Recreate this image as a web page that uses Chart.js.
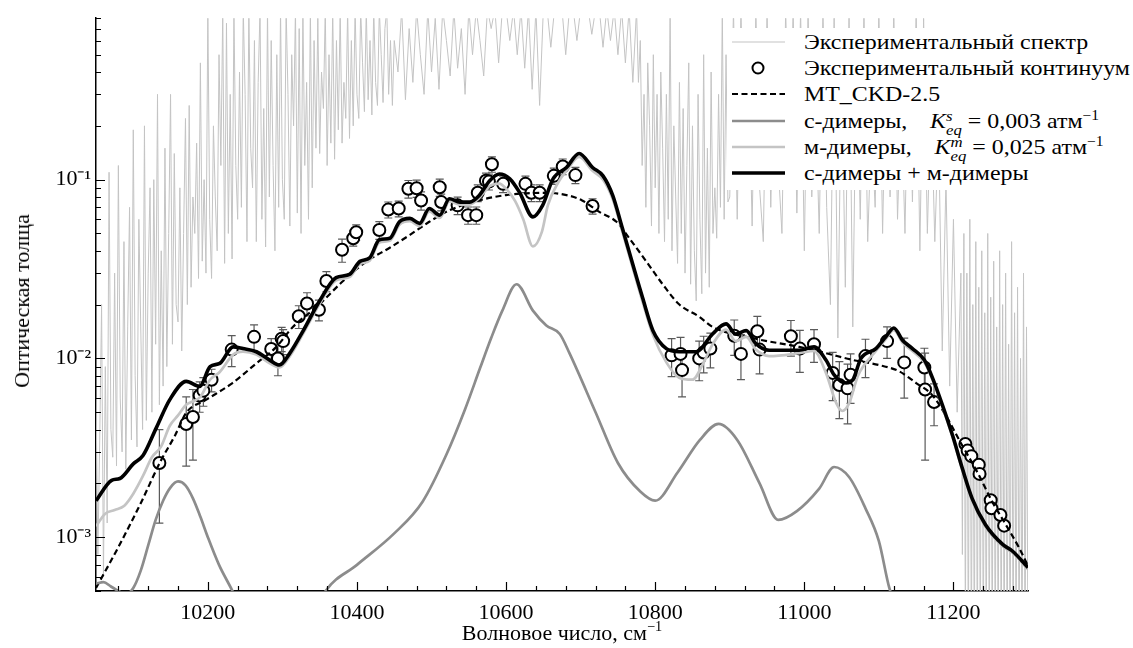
<!DOCTYPE html>
<html>
<head>
<meta charset="utf-8">
<script src="https://cdn.jsdelivr.net/npm/chart.js@4.4.1/dist/chart.umd.min.js"></script>
<style>
  html, body { margin: 0; padding: 0; background: #fff; }
  #wrap { position: relative; width: 1133px; height: 648px; overflow: hidden; }
  #chart { position: absolute; left: 0; top: 0; }
  .legend { position: absolute; left: 727px; top: 28px; width: 406px; height: 162px; background: #fff;
            font-family: 'Liberation Serif', serif; font-size: 21px; color: #000; }
  .row { position: absolute; left: 0; width: 406px; height: 26px; }
  .row svg { position: absolute; left: 0; top: 0; }
  .row .txt { position: absolute; left: 77px; top: 0; line-height: 26px; white-space: nowrap; transform-origin: 0 50%; }
  .k { font-style: italic; }
  .ss { display: inline-block; font-size: 0.7em; line-height: 0.95em; vertical-align: -0.5em; font-style: italic; }
  .ss span { display: block; }
  .gap { display: inline-block; width: 20px; }
  sup.u { font-size: 0.65em; vertical-align: 0.6em; line-height: 0; }
  .xtitle { position: absolute; left: 96px; width: 932px; top: 620px; text-align: center;
            font-family: 'Liberation Serif', serif; font-size: 22px; }
  .ytitle { position: absolute; left: 22px; top: 301px; transform: translate(-50%, -50%) rotate(-90deg);
            font-family: 'Liberation Serif', serif; font-size: 22px; white-space: nowrap; }
</style>
</head>
<body>
<div id="wrap">
  <canvas id="chart" width="1133" height="648"></canvas>
  <div class="ytitle">Оптическая толща</div>
  <div class="xtitle">Волновое число, см<sup class="u">−1</sup></div>
  <div class="legend">
    <div class="row" style="top:1px"><svg width="60" height="26"><line x1="5" y1="13" x2="58" y2="13" stroke="#c4c4c4" stroke-width="1.2"/></svg><div class="txt">Экспериментальный спектр</div></div>
    <div class="row" style="top:27px"><svg width="60" height="26"><circle cx="31" cy="13" r="5.5" fill="#fff" stroke="#000" stroke-width="2"/></svg><div class="txt">Экспериментальный континуум</div></div>
    <div class="row" style="top:53px"><svg width="60" height="26"><line x1="5" y1="13" x2="58" y2="13" stroke="#000" stroke-width="2.2" stroke-dasharray="6 3.5"/></svg><div class="txt">MT_CKD-2.5</div></div>
    <div class="row" style="top:80px"><svg width="60" height="26"><line x1="5" y1="13" x2="58" y2="13" stroke="#8c8c8c" stroke-width="2.7"/></svg><div class="txt">с-димеры,<span class="gap"></span><span class="k">K</span><span class="ss"><span>s</span><span>eq</span></span> = 0,003 атм<sup class="u">−1</sup></div></div>
    <div class="row" style="top:106px"><svg width="60" height="26"><line x1="5" y1="13" x2="58" y2="13" stroke="#c4c4c4" stroke-width="2.7"/></svg><div class="txt">м-димеры,<span class="gap"></span><span class="k">K</span><span class="ss"><span>m</span><span>eq</span></span> = 0,025 атм<sup class="u">−1</sup></div></div>
    <div class="row" style="top:132px"><svg width="60" height="26"><line x1="5" y1="13" x2="58" y2="13" stroke="#000" stroke-width="3.6"/></svg><div class="txt">с-димеры + м-димеры</div></div>
  </div>
</div>
<script>
// axis setup
const xMin = 10050, xMax = 11300;
const yMin = 5e-4, yMax = 0.8;
const xMajorTicks = [10200, 10400, 10600, 10800, 11000, 11200];
const xMinorStep = 40;
const yMajorTicks = [1e-3, 1e-2, 1e-1];
const yTickLabels = ['10⁻³', '10⁻²', '10⁻¹'];

// experimental spectrum, read in pieces with different sampling
// A: every 2.5 cm-1 from 10050
const specAStart = 10050, specAStep = 2.5;
const specAValues = [
  0.006, 0.0008, 0.0035, 0.02, 0.0006, 0.009, 0.0012, 0.11, 0.004, 0.0028,
  0.03, 0.0025, 0.12, 0.006, 0.003, 0.045, 0.0024, 0.015, 0.07, 0.0035,
  0.19, 0.008, 0.0032, 0.06, 0.015, 0.004, 0.2, 0.0045, 0.03, 0.09,
  0.005, 0.1, 0.012, 0.3, 0.0055, 0.04, 0.007, 0.15, 0.009, 0.05,
  0.3, 0.012, 0.14, 0.02, 0.016, 0.09, 0.011, 0.05, 0.22, 0.02,
  0.26, 0.025, 0.08, 0.05, 0.16, 0.028, 0.45, 0.035, 0.1, 0.03,
  0.9, 0.06, 0.028, 0.2, 0.08, 0.04, 0.5, 0.12, 0.9, 0.034,
  0.75, 0.05, 0.3, 0.036, 0.9, 0.12, 0.06, 0.4, 0.07, 0.9,
  0.3, 0.045, 0.9, 0.15, 0.09, 0.6, 0.045, 0.35, 0.9, 0.06,
  0.25, 0.042, 0.9, 0.08, 0.6, 0.12, 0.04, 0.5, 0.07, 0.9,
  0.1, 0.06, 0.9, 0.3, 0.055, 0.5, 0.2, 0.9, 0.065, 0.7,
  0.05, 0.9, 0.12, 0.35, 0.06, 0.9, 0.09, 0.6, 0.15, 0.8,
  0.14, 0.4, 0.25, 0.9, 0.12, 0.5, 0.16, 0.9, 0.13, 0.6,
  0.19, 0.9, 0.16, 0.35, 0.22, 0.9, 0.17, 0.6, 0.2, 0.9,
  0.3, 0.22, 0.9, 0.45, 0.24, 0.9, 0.28, 0.6, 0.23, 0.9,
  0.35, 0.26, 0.9, 0.5, 0.27, 0.7, 0.9, 0.3, 0.6, 0.26
];
// B: every 5 cm-1 from 10450
const specBStart = 10450, specBStep = 5;
const specBValues = [
  0.6, 0.4, 0.9, 0.28, 0.7, 0.35, 0.9, 0.5, 0.3, 0.9,
  0.4, 0.8, 0.32, 0.9, 0.6, 0.38, 0.9, 0.42, 0.7, 0.3,
  0.9, 0.5, 0.9, 0.6, 0.38, 0.9, 0.7, 0.9, 0.45, 0.9,
  0.9, 0.6, 0.9, 0.5, 0.9, 0.42, 0.9, 0.32, 0.9, 0.26,
  0.9, 0.9, 0.55, 0.9, 0.9, 0.9, 0.5, 0.9, 0.9, 0.6,
  0.9, 0.9, 0.9, 0.65, 0.9, 0.9, 0.55, 0.9, 0.6, 0.9,
  0.5, 0.9, 0.45, 0.9, 0.35
];
// D: every 2.5 cm-1 from 10775 (deep band)
const specDStart = 10775, specDStep = 2.5;
const specDValues = [
  0.9, 0.35, 0.6, 0.12, 0.3, 0.07, 0.45, 0.2, 0.055, 0.5,
  0.09, 0.3, 0.05, 0.4, 0.15, 0.045, 0.3, 0.06, 0.9, 0.04,
  0.2, 0.08, 0.034, 0.35, 0.05, 0.25, 0.03, 0.12, 0.45, 0.026,
  0.2, 0.04, 0.021, 0.3, 0.06, 0.023, 0.5, 0.03, 0.15, 0.025,
  0.4, 0.05, 0.09, 0.047, 0.3, 0.07, 0.9, 0.06, 0.5, 0.075
];
// E: every 5 cm-1 from 10900
const specEStart = 10900, specEStep = 5;
const specEValues = [
  0.08, 0.9, 0.06, 0.9, 0.1, 0.5, 0.055, 0.9, 0.09, 0.045,
  0.9, 0.07, 0.6, 0.12, 0.05, 0.9, 0.1, 0.9, 0.065, 0.9,
  0.04, 0.9, 0.08, 0.3, 0.05, 0.9, 0.07, 0.02, 0.9, 0.013,
  0.5, 0.025, 0.9, 0.015, 0.6, 0.06, 0.9, 0.045, 0.2, 0.07,
  0.9, 0.05, 0.6, 0.08, 0.9, 0.06, 0.3, 0.05, 0.7, 0.075,
  0.9, 0.04, 0.8, 0.05, 0.3, 0.045, 0.2, 0.011, 0.1, 0.007,
  0.06, 0.005, 0.03
];
// C: dense tail, every 2 cm-1 from 11212
const specCStart = 11212, specCStep = 2;
const specCValues = [
  0.0008, 0.05, 0.0003, 0.03, 0.0002, 0.06, 0.0002, 0.02, 0.0002, 0.045,
  0.0002, 0.025, 0.0002, 0.04, 0.0002, 0.018, 0.0002, 0.05, 0.0002, 0.022,
  0.0002, 0.035, 0.0002, 0.015, 0.0002, 0.04, 0.0002, 0.02, 0.0002, 0.03,
  0.0002, 0.012, 0.0002, 0.045, 0.0002, 0.018, 0.0002, 0.025, 0.0002, 0.01,
  0.0002, 0.03, 0.0002, 0.015, 0.0002
];

// experimental continuum with error bars
const contX = [10135, 10171, 10180, 10189, 10194, 10205, 10232, 10262, 10285, 10294,
  10299, 10301, 10322, 10333, 10349, 10359, 10380, 10395, 10399, 10430,
  10442, 10456, 10469, 10480, 10486, 10511, 10513, 10535, 10549, 10560,
  10562, 10573, 10577, 10581, 10596, 10626, 10634, 10645, 10664, 10676,
  10693, 10716, 10822, 10834, 10836, 10859, 10865, 10874, 10906, 10915,
  10937, 10940, 10982, 10994, 11013, 11038, 11047, 11058, 11062, 11082,
  11111, 11134, 11161, 11162, 11174, 11216, 11219, 11224, 11234, 11235,
  11250, 11251, 11263, 11268];
const contY = [2.6e-3, 4.3e-3, 4.7e-3, 6.2e-3, 6.6e-3, 7.6e-3, 1.12e-2, 1.32e-2, 1.13e-2, 1.0e-2,
  1.29e-2, 1.25e-2, 1.72e-2, 2.03e-2, 1.87e-2, 2.71e-2, 4.05e-2, 4.7e-2, 5.08e-2, 5.23e-2,
  6.8e-2, 6.89e-2, 8.89e-2, 8.95e-2, 7.65e-2, 9.07e-2, 7.49e-2, 7.18e-2, 6.33e-2, 6.33e-2,
  8.44e-2, 9.87e-2, 9.75e-2, 0.122, 9.47e-2, 9.47e-2, 8.44e-2, 8.44e-2, 0.105, 0.1185,
  0.106, 7.12e-2, 1.04e-2, 1.06e-2, 8.6e-3, 1.0e-2, 1.08e-2, 1.135e-2, 1.34e-2, 1.06e-2,
  1.42e-2, 1.12e-2, 1.33e-2, 1.135e-2, 1.2e-2, 8.3e-3, 7.1e-3, 6.8e-3, 8.1e-3, 1.03e-2,
  1.25e-2, 9.5e-3, 8.9e-3, 6.7e-3, 5.7e-3, 3.32e-3, 3.05e-3, 2.84e-3, 2.54e-3, 2.26e-3,
  1.61e-3, 1.45e-3, 1.33e-3, 1.16e-3];
const contErr = [1.4e-3, 1.8e-3, 2.0e-3, 1.2e-3, 1.2e-3, 1.1e-3, 2.2e-3, 2.2e-3, 1.6e-3, 2.0e-3,
  2.0e-3, 2.0e-3, 2.5e-3, 3.0e-3, 2.5e-3, 3.5e-3, 6e-3, 4.5e-3, 5e-3, 6e-3,
  7e-3, 7e-3, 1.0e-2, 1.0e-2, 9e-3, 1.0e-2, 8e-3, 8e-3, 7e-3, 7e-3,
  9e-3, 1.0e-2, 1.0e-2, 1.2e-2, 1.0e-2, 1.0e-2, 9e-3, 9e-3, 1.1e-2, 1.2e-2,
  1.1e-2, 7e-3, 2.5e-3, 2.5e-3, 2.5e-3, 2.5e-3, 2.5e-3, 2.5e-3, 3e-3, 3e-3,
  3e-3, 3e-3, 3e-3, 3e-3, 2.5e-3, 2.5e-3, 2.5e-3, 2.5e-3, 2.5e-3, 2.5e-3,
  2.5e-3, 3.5e-3, 2.5e-3, 4e-3, 1.5e-3, 0, 0, 0, 0, 0,
  0, 0, 0, 0];

// MT_CKD-2.5
const ckdX = [10050, 10080, 10111, 10136, 10156, 10171, 10198, 10233, 10265, 10292,
  10314, 10346, 10381, 10413, 10444, 10471, 10497, 10524, 10555, 10600,
  10654, 10681, 10702, 10725, 10748, 10765, 10788, 10810, 10832, 10859,
  10877, 10930, 10993, 11029, 11065, 11100, 11127, 11150, 11171, 11190,
  11207, 11234, 11252, 11270, 11288, 11300];
const ckdY = [5.2e-4, 8.8e-4, 1.58e-3, 2.63e-3, 3.71e-3, 4.97e-3, 5.88e-3, 7.28e-3, 9.38e-3, 1.16e-2,
  1.5e-2, 1.94e-2, 2.7e-2, 3.49e-2, 4.16e-2, 4.91e-2, 5.81e-2, 6.74e-2, 7.49e-2, 8.2e-2,
  8.44e-2, 8.2e-2, 7.65e-2, 6.6e-2, 5.81e-2, 4.72e-2, 3.49e-2, 2.6e-2, 2.01e-2, 1.71e-2,
  1.5e-2, 1.3e-2, 1.16e-2, 1.07e-2, 9.8e-3, 9.18e-3, 8.48e-3, 7.28e-3, 6.27e-3, 4.78e-3,
  3.54e-3, 2.23e-3, 1.58e-3, 1.18e-3, 8.73e-4, 6.9e-4];

// s-dimers
const sDimX = [10050, 10060, 10070, 10080, 10090, 10100, 10110, 10120, 10130, 10140,
  10150, 10160, 10170, 10180, 10190, 10200, 10215, 10233, 10250,
  10340, 10358, 10400, 10450, 10488, 10520, 10545, 10565, 10580, 10595, 10614,
  10636, 10654, 10672, 10685, 10720, 10750, 10780, 10800, 10830, 10860,
  10885, 10910, 10940, 10965, 10990, 11020, 11040, 11060, 11082, 11100,
  11114, 11130];
const sDimY = [5.5e-4, 5.6e-4, 5.3e-4, 5.0e-4, 4.8e-4, 5.2e-4, 6.5e-4, 9e-4, 1.25e-3, 1.6e-3,
  1.9e-3, 2.05e-3, 1.95e-3, 1.65e-3, 1.3e-3, 1.0e-3, 7e-4, 5e-4, 3.5e-4,
  3.5e-4, 5e-4, 7.0e-4, 1.05e-3, 1.58e-3, 2.9e-3, 5.2e-3, 8.8e-3, 1.3e-2, 1.85e-2, 2.6e-2,
  1.85e-2, 1.53e-2, 1.37e-2, 1.07e-2, 5e-3, 2.6e-3, 1.8e-3, 1.6e-3, 2.3e-3, 3.5e-3,
  4.3e-3, 3.5e-3, 2.0e-3, 1.25e-3, 1.4e-3, 1.87e-3, 2.47e-3, 2.17e-3, 1.45e-3, 9.5e-4,
  5.2e-4, 3.5e-4];

// m-dimers
const mDimX = [10050, 10062, 10075, 10088, 10100, 10113, 10125, 10137, 10149, 10160,
  10171, 10182, 10190, 10203, 10216, 10234, 10247, 10265, 10283, 10296,
  10310, 10328, 10350, 10372, 10390, 10404, 10417, 10430, 10444, 10457,
  10471, 10484, 10497, 10511, 10524, 10538, 10551, 10564, 10578, 10591,
  10600, 10612, 10623, 10636, 10648, 10656, 10670, 10681, 10698, 10716,
  10730, 10743, 10756, 10770, 10783, 10797, 10815, 10832, 10850, 10865,
  10877, 10895, 10908, 10922, 10935, 10953, 10993, 11013, 11029, 11043,
  11051, 11060, 11072, 11096, 11109, 11120, 11132, 11145, 11161, 11172,
  11185, 11199, 11212, 11225, 11243, 11266, 11279, 11300];
const mDimY = [1.15e-3, 1.35e-3, 1.42e-3, 1.5e-3, 1.75e-3, 2.2e-3, 2.8e-3, 3.2e-3, 4.2e-3, 4.8e-3,
  5.5e-3, 5.8e-3, 6.1e-3, 7.6e-3, 8.4e-3, 1.05e-2, 1.09e-2, 1.05e-2, 9.4e-3, 8.9e-3,
  1.03e-2, 1.38e-2, 2.02e-2, 2.73e-2, 2.85e-2, 3.37e-2, 3.52e-2, 4.45e-2, 4.55e-2, 5.6e-2,
  5.85e-2, 5.5e-2, 6.65e-2, 6.1e-2, 7.55e-2, 7.25e-2, 7.25e-2, 7.9e-2, 9.2e-2, 9.5e-2,
  8.9e-2, 7.6e-2, 6.0e-2, 4.23e-2, 5.1e-2, 7.18e-2, 9.66e-2, 0.112, 0.134, 0.112,
  0.1, 7.8e-2, 5.1e-2, 3.2e-2, 2.08e-2, 1.35e-2, 9.5e-3, 7.8e-3, 7.6e-3, 9.5e-3,
  1.2e-2, 1.45e-2, 1.25e-2, 1.32e-2, 1.12e-2, 1.03e-2, 1.07e-2, 1.1e-2, 8.3e-3, 5.6e-3,
  5.08e-3, 5.6e-3, 8.0e-3, 1.1e-2, 1.28e-2, 1.44e-2, 1.22e-2, 1.1e-2, 9.5e-3, 7.6e-3,
  5.4e-3, 3.6e-3, 2.36e-3, 1.6e-3, 1.14e-3, 8.9e-4, 8.2e-4, 6.6e-4];

// s-dimers + m-dimers
const sumX = [10050, 10071, 10082, 10100, 10113, 10131, 10149, 10171, 10189, 10203,
  10216, 10234, 10247, 10265, 10283, 10296, 10310, 10328, 10350, 10372,
  10390, 10404, 10417, 10430, 10444, 10457, 10471, 10484, 10497, 10511,
  10524, 10538, 10551, 10564, 10578, 10591, 10605, 10618, 10636, 10649,
  10663, 10681, 10698, 10716, 10730, 10743, 10756, 10770, 10783, 10797,
  10815, 10832, 10855, 10877, 10895, 10908, 10922, 10935, 10953, 10993,
  11013, 11029, 11040, 11056, 11065, 11076, 11096, 11109, 11120, 11132,
  11145, 11161, 11172, 11185, 11199, 11212, 11225, 11243, 11266, 11279,
  11300];
const sumY = [1.6e-3, 2.08e-3, 2.13e-3, 2.57e-3, 2.86e-3, 4.1e-3, 5.88e-3, 7.44e-3, 6.98e-3, 9.0e-3,
  9.38e-3, 1.16e-2, 1.135e-2, 1.09e-2, 9.79e-3, 9.18e-3, 1.07e-2, 1.43e-2, 2.1e-2, 2.83e-2,
  2.95e-2, 3.49e-2, 3.65e-2, 4.61e-2, 4.7e-2, 5.81e-2, 6.07e-2, 5.69e-2, 6.89e-2, 6.33e-2,
  7.82e-2, 7.49e-2, 7.49e-2, 8.16e-2, 9.87e-2, 0.1075, 0.101, 8.5e-2, 6.19e-2, 7.18e-2,
  0.101, 0.117, 0.14, 0.117, 0.105, 8.16e-2, 5.34e-2, 3.35e-2, 2.19e-2, 1.43e-2,
  1.135e-2, 1.09e-2, 1.09e-2, 1.37e-2, 1.56e-2, 1.37e-2, 1.43e-2, 1.21e-2, 1.11e-2, 1.11e-2,
  1.16e-2, 9.79e-3, 8.09e-3, 7.28e-3, 7.59e-3, 1.0e-2, 1.135e-2, 1.318e-2, 1.48e-2, 1.26e-2,
  1.135e-2, 9.79e-3, 7.76e-3, 5.52e-3, 3.69e-3, 2.42e-3, 1.65e-3, 1.175e-3, 9.12e-4, 8.37e-4,
  6.77e-4];

const pts = (xs, ys) => xs.map((x, i) => ({ x: x, y: ys[i] }));
const sampled = (start, step, vals) => vals.map((v, i) => ({ x: start + i * step, y: v }));
const spectrum = [].concat(
  sampled(specAStart, specAStep, specAValues),
  sampled(specBStart, specBStep, specBValues),
  sampled(specDStart, specDStep, specDValues),
  sampled(specEStart, specEStep, specEValues),
  sampled(specCStart, specCStep, specCValues)
);

const errorBars = {
  id: 'errorBars',
  beforeDatasetDraw(chart, args) {
    const ds = chart.data.datasets[args.index];
    if (!ds.errors) return;
    const { ctx, chartArea: a, scales: { x, y } } = chart;
    ctx.save();
    ctx.beginPath();
    ctx.rect(a.left, a.top, a.right - a.left, a.bottom - a.top);
    ctx.clip();
    ctx.strokeStyle = '#5a5a5a';
    ctx.lineWidth = 1.2;
    ds.data.forEach((p, i) => {
      const e = ds.errors[i];
      if (!e) return;
      const px = x.getPixelForValue(p.x);
      const top = y.getPixelForValue(p.y + e);
      const bot = y.getPixelForValue(Math.max(p.y - e, 1e-6));
      ctx.beginPath();
      ctx.moveTo(px, top); ctx.lineTo(px, bot);
      ctx.moveTo(px - 4, top); ctx.lineTo(px + 4, top);
      ctx.moveTo(px - 4, bot); ctx.lineTo(px + 4, bot);
      ctx.stroke();
    });
    ctx.restore();
  }
};

// matplotlib style ticks pointing into the plot
const inwardTicks = {
  id: 'inwardTicks',
  afterDraw(chart) {
    const { ctx, chartArea: a, scales: { x, y } } = chart;
    ctx.save();
    ctx.strokeStyle = '#000';
    ctx.lineWidth = 1.2;
    ctx.beginPath();
    for (let v = xMajorTicks[0] - 3 * xMinorStep; v < xMax; v += xMinorStep) {
      const px = Math.round(x.getPixelForValue(v)) + 0.5;
      const len = xMajorTicks.includes(v) ? 9 : 5;
      ctx.moveTo(px, a.bottom); ctx.lineTo(px, a.bottom - len);
    }
    for (let e = -4; e <= -1; e++) {
      for (let m = 1; m <= 9; m++) {
        const v = m * Math.pow(10, e);
        if (v < yMin || v > yMax) continue;
        const py = Math.round(y.getPixelForValue(v)) + 0.5;
        const len = m === 1 ? 9 : 5;
        ctx.moveTo(a.left, py); ctx.lineTo(a.left + len, py);
      }
    }
    ctx.stroke();
    ctx.restore();
  }
};

Chart.defaults.font.family = "'Liberation Serif', serif";
Chart.defaults.font.size = 22;
Chart.defaults.color = '#000';

new Chart(document.getElementById('chart'), {
  type: 'scatter',
  data: {
    datasets: [
      { label: 'с-димеры + м-димеры', data: pts(sumX, sumY), showLine: true, pointRadius: 0,
        borderColor: '#000', borderWidth: 3.6, cubicInterpolationMode: 'monotone', order: 1 },
      { label: 'м-димеры', data: pts(mDimX, mDimY), showLine: true, pointRadius: 0,
        borderColor: '#c4c4c4', borderWidth: 2.7, cubicInterpolationMode: 'monotone', order: 2 },
      { label: 'с-димеры', data: pts(sDimX, sDimY), showLine: true, pointRadius: 0,
        borderColor: '#8c8c8c', borderWidth: 2.7, cubicInterpolationMode: 'monotone', order: 3 },
      { label: 'MT_CKD-2.5', data: pts(ckdX, ckdY), showLine: true, pointRadius: 0,
        borderColor: '#000', borderWidth: 2.2, borderDash: [6, 3.5], cubicInterpolationMode: 'monotone', order: 4 },
      { label: 'Экспериментальный континуум', data: pts(contX, contY), errors: contErr, showLine: false,
        pointRadius: 6, pointBorderWidth: 2, pointBorderColor: '#000', pointBackgroundColor: '#fff', order: 5 },
      { label: 'Экспериментальный спектр', data: spectrum, showLine: true, pointRadius: 0,
        borderColor: '#c4c4c4', borderWidth: 1, order: 6 }
    ]
  },
  options: {
    responsive: false,
    animation: false,
    events: [],
    layout: { padding: { left: 0, top: 12, right: 105, bottom: 0 } },
    plugins: { legend: { display: false }, tooltip: { enabled: false } },
    scales: {
      x: {
        type: 'linear', min: xMin, max: xMax,
        grid: { display: false, drawTicks: false },
        border: { display: true, color: '#000', width: 1.5 },
        afterBuildTicks: (s) => { s.ticks = xMajorTicks.map(v => ({ value: v })); },
        afterFit: (s) => { s.height = 57; },
        ticks: { font: { family: "'Liberation Serif', serif", size: 22 }, color: '#000', padding: 9,
                 maxRotation: 0, autoSkip: false, callback: (v) => String(v) }
      },
      y: {
        type: 'logarithmic', min: yMin, max: yMax,
        grid: { display: false, drawTicks: false },
        border: { display: true, color: '#000', width: 1.5 },
        afterBuildTicks: (s) => { s.ticks = yMajorTicks.map(v => ({ value: v })); },
        afterFit: (s) => { s.width = 96; },
        ticks: {
          font: { family: "'Liberation Serif', serif", size: 22 }, color: '#000', padding: 5, autoSkip: false,
          callback: (v) => {
            const i = yMajorTicks.findIndex(t => Math.abs(t - v) / t < 1e-6);
            return i >= 0 ? yTickLabels[i] : '';
          }
        }
      }
    }
  },
  plugins: [errorBars, inwardTicks]
});

// stretch legend text to the width it has in the figure
const legendTexts = document.querySelectorAll('.legend .txt');
const k = 326 / legendTexts[1].getBoundingClientRect().width;
legendTexts.forEach(t => { t.style.transform = 'scaleX(' + k + ')'; });
</script>
</body>
</html>
